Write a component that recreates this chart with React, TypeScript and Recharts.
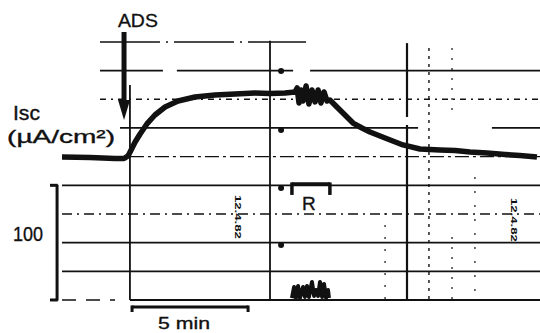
import React from 'react';
import { ComposedChart, Line, XAxis, YAxis, ReferenceLine, ReferenceDot } from 'recharts';

// time in minutes (0 = ADS addition), Isc in µA/cm² (chart units: 25 per grid division)
const traceTime = [-2.87, -1.68, -0.62, -0.24, -0.07, 0.06, 0.23, 0.44, 0.73, 1.07, 1.5, 2.05, 2.77, 3.62, 4.47, 5.31, 5.95, 6.59, 7.01,
  7.1, 7.18, 7.27, 7.35, 7.48, 7.6, 7.73, 7.86, 7.99, 8.11, 8.24, 8.37, 8.49,
  8.83, 9.13, 9.47, 9.85, 10.19, 10.83, 11.59, 12.31, 13.16, 13.8, 14.43, 15.15, 15.92, 16.55, 17.27];
const traceIsc = [124.7, 124.3, 123.4, 123.4, 125.6, 130.8, 137.8, 144.8, 153.5, 161.3, 168.3, 173.5, 177, 178.8, 179.6, 180.5, 180.1, 180.5, 181.4,
  184.9, 171.8, 183.1, 173.5, 186.6, 170.9, 183.1, 172.7, 183.1, 171.8, 181.4, 173.5, 174.4,
  167.4, 161.3, 154.3, 150, 146.5, 141.3, 135.2, 131.7, 130.8, 130.4, 129.1, 128.2, 126.9, 126, 124.7];

const rTime = [6.88, 6.97, 7.05, 7.14, 7.22, 7.35, 7.43, 7.52, 7.6, 7.73, 7.82, 7.9, 7.99, 8.07, 8.16, 8.24, 8.33, 8.41, 8.45];
const rIsc = [1.7, 11.3, 1.7, 12.2, 1.7, 11.3, 2.6, 12.2, 2.6, 15.7, 3.5, 8.7, 3.5, 15.7, 2.6, 14, 1.7, 8.7, 1.7];

const labelADS = 'ADS';
const labelIsc = 'Isc';
const labelUnit = '(µA/cm²)';
const labelScale = '100';
const labelTime = '5 min';
const labelR = 'R';
const labelStamp = '12.4.82';

const traceData = traceTime.map((t, i) => ({ t, isc: traceIsc[i] }));
const rData = rTime.map((t, i) => ({ t, isc: rIsc[i] }));

const INK = '#111';
const FONT = '"Liberation Sans", Arial, sans-serif';

const seg = (x1: number, y1: number, x2: number, y2: number) => [{ x: x1, y: y1 }, { x: x2, y: y2 }];

const txt = (content: string, size: number, opts: any = {}) => (p: any) => (
  <text x={p.cx} y={p.cy} fontFamily={FONT} fontSize={size} fill={INK}
    stroke={opts.bold ? 'none' : INK} strokeWidth={opts.bold ? 0 : 0.35}
    textAnchor={opts.anchor || 'start'}
    textLength={opts.len} lengthAdjust={opts.len ? 'spacingAndGlyphs' : undefined}
    transform={opts.rot ? `rotate(90, ${p.cx}, ${p.cy})` : undefined}
    fontWeight={opts.bold ? 'bold' : 'normal'}>
    {content}
  </text>
);

const arrowHead = (p: any) => (
  <polygon points={`${p.cx - 6},${p.cy - 20} ${p.cx + 6},${p.cy - 20} ${p.cx},${p.cy}`} fill={INK} />
);

export default function App() {
  const solid = { stroke: INK, strokeWidth: 1.8 };
  return (
    <div style={{ position: 'absolute', left: 0, top: 0, width: 540, height: 333, background: '#fff' }}>
      <ComposedChart width={540} height={333} margin={{ top: 0, right: 0, bottom: 0, left: 0 }}>
        <XAxis type="number" dataKey="t" domain={[-5.5, 17.4]} allowDataOverflow hide />
        <YAxis type="number" domain={[-28.8, 261.6]} allowDataOverflow hide />

        {/* horizontal chart-paper lines */}
        <ReferenceLine segment={seg(-1.26, 225, 7.48, 225)} stroke={INK} strokeWidth={1.6} strokeDasharray="60 6 2 6" />
        <ReferenceLine segment={seg(-1.26, 200, 1.41, 200)} {...solid} />
        <ReferenceLine segment={seg(2.0, 200, 6.93, 200)} {...solid} />
        <ReferenceLine segment={seg(7.65, 200, 17.4, 200)} {...solid} />
        <ReferenceLine segment={seg(-1.26, 175, 17.4, 175)} stroke={INK} strokeWidth={1.4} strokeDasharray="6 5 2 5" />
        <ReferenceLine segment={seg(-0.41, 150, 12.23, 150)} {...solid} />
        <ReferenceLine segment={seg(15.36, 150, 17.4, 150)} {...solid} />
        <ReferenceLine segment={seg(0.01, 125, 17.4, 125)} stroke={INK} strokeWidth={1.4} strokeDasharray="14 4 3 4" />
        <ReferenceLine segment={seg(-2.87, 100, 17.4, 100)} {...solid} />
        <ReferenceLine segment={seg(-2.87, 75, 17.4, 75)} stroke={INK} strokeWidth={1.4} strokeDasharray="10 5 2 5" />
        <ReferenceLine segment={seg(-2.87, 50, 17.4, 50)} {...solid} />
        <ReferenceLine segment={seg(-2.87, 25, 17.4, 25)} {...solid} />
        <ReferenceLine segment={seg(-2.87, 0, -0.62, 0)} stroke={INK} strokeWidth={1.6} strokeDasharray="14 10" />
        <ReferenceLine segment={seg(0.01, 0, 17.4, 0)} stroke={INK} strokeWidth={2} />

        {/* vertical chart-paper lines */}
        <ReferenceLine segment={seg(0.01, 187.5, 0.01, 0)} {...solid} />
        <ReferenceLine segment={seg(5.95, 226, 5.95, 0)} {...solid} />
        <ReferenceLine segment={seg(11.76, 224, 11.76, 159.6)} stroke={INK} strokeWidth={2.2} />
        <ReferenceLine segment={seg(11.76, 152.6, 11.76, 0)} stroke={INK} strokeWidth={2.2} />
        <ReferenceLine segment={seg(12.69, 219.7, 12.69, 0)} stroke={INK} strokeWidth={1.4} strokeDasharray="3 5" />
        <ReferenceLine segment={seg(13.67, 219.7, 13.67, 161.3)} stroke={INK} strokeWidth={1.2} strokeDasharray="2 8" />
        <ReferenceLine segment={seg(13.67, 54.9, 13.67, 0)} stroke={INK} strokeWidth={1.2} strokeDasharray="2 8" />
        <ReferenceLine segment={seg(14.64, 107.3, 14.64, 0)} stroke={INK} strokeWidth={1.2} strokeDasharray="2 12" />
        <ReferenceLine segment={seg(10.83, 75.9, 10.83, 0)} stroke={INK} strokeWidth={1.2} strokeDasharray="2 10" />

        {/* pen marks */}
        <ReferenceDot x={6.42} y={199.7} r={3} fill={INK} stroke="none" />
        <ReferenceDot x={6.42} y={148.2} r={3} fill={INK} stroke="none" />
        <ReferenceDot x={6.42} y={97.7} r={3} fill={INK} stroke="none" />
        <ReferenceDot x={6.42} y={48} r={3} fill={INK} stroke="none" />

        {/* scale brackets */}
        <ReferenceLine segment={seg(-3.08, 100.5, -3.08, -0.5)} stroke={INK} strokeWidth={3} />
        <ReferenceLine segment={seg(-3.38, 100, -3.05, 100)} stroke={INK} strokeWidth={3} />
        <ReferenceLine segment={seg(-3.38, 0, -3.05, 0)} stroke={INK} strokeWidth={3} />
        <ReferenceLine segment={seg(0.1, -6.1, 5.02, -6.1)} stroke={INK} strokeWidth={3} />
        <ReferenceLine segment={seg(0.1, -4.8, 0.1, -10.5)} stroke={INK} strokeWidth={3} />
        <ReferenceLine segment={seg(5.02, -4.8, 5.02, -10.5)} stroke={INK} strokeWidth={3} />
        <ReferenceLine segment={seg(6.88, 101.2, 8.49, 101.2)} stroke={INK} strokeWidth={3.5} />
        <ReferenceLine segment={seg(6.88, 102.5, 6.88, 91.6)} stroke={INK} strokeWidth={3.5} />
        <ReferenceLine segment={seg(8.49, 102.5, 8.49, 91.6)} stroke={INK} strokeWidth={3.5} />

        {/* ADS arrow */}
        <ReferenceLine segment={seg(-0.24, 233.7, -0.24, 172.7)} stroke={INK} strokeWidth={5} />
        <ReferenceDot x={-0.24} y={157} r={1} shape={arrowHead} />

        {/* texts */}
        <ReferenceDot x={-0.5} y={238.1} r={1} shape={txt(labelADS, 19, { len: 40 })} />
        <ReferenceDot x={-4.95} y={156.9} r={1} shape={txt(labelIsc, 20, { len: 27 })} />
        <ReferenceDot x={-5.2} y={136.9} r={1} shape={txt(labelUnit, 19, { len: 108 })} />
        <ReferenceDot x={-4.95} y={51.4} r={1} shape={txt(labelScale, 20, { len: 30 })} />
        <ReferenceDot x={1.2} y={-25.3} r={1} shape={txt(labelTime, 17, { len: 52 })} />
        <ReferenceDot x={7.31} y={78.5} r={1} shape={txt(labelR, 19)} />
        <ReferenceDot x={4.45} y={91.6} r={1} shape={txt(labelStamp, 9, { rot: true, bold: true, len: 44 })} />
        <ReferenceDot x={16.15} y={89} r={1} shape={txt(labelStamp, 9, { rot: true, bold: true, len: 44 })} />

        {/* recorder traces */}
        <Line data={traceData} dataKey="isc" type="linear" stroke={INK} strokeWidth={5.5} dot={false} activeDot={false}
          legendType="none" strokeLinejoin="round" isAnimationActive={false} />
        <Line data={rData} dataKey="isc" type="linear" stroke={INK} strokeWidth={4} dot={false} activeDot={false}
          legendType="none" strokeLinejoin="round" isAnimationActive={false} />
      </ComposedChart>
    </div>
  );
}
